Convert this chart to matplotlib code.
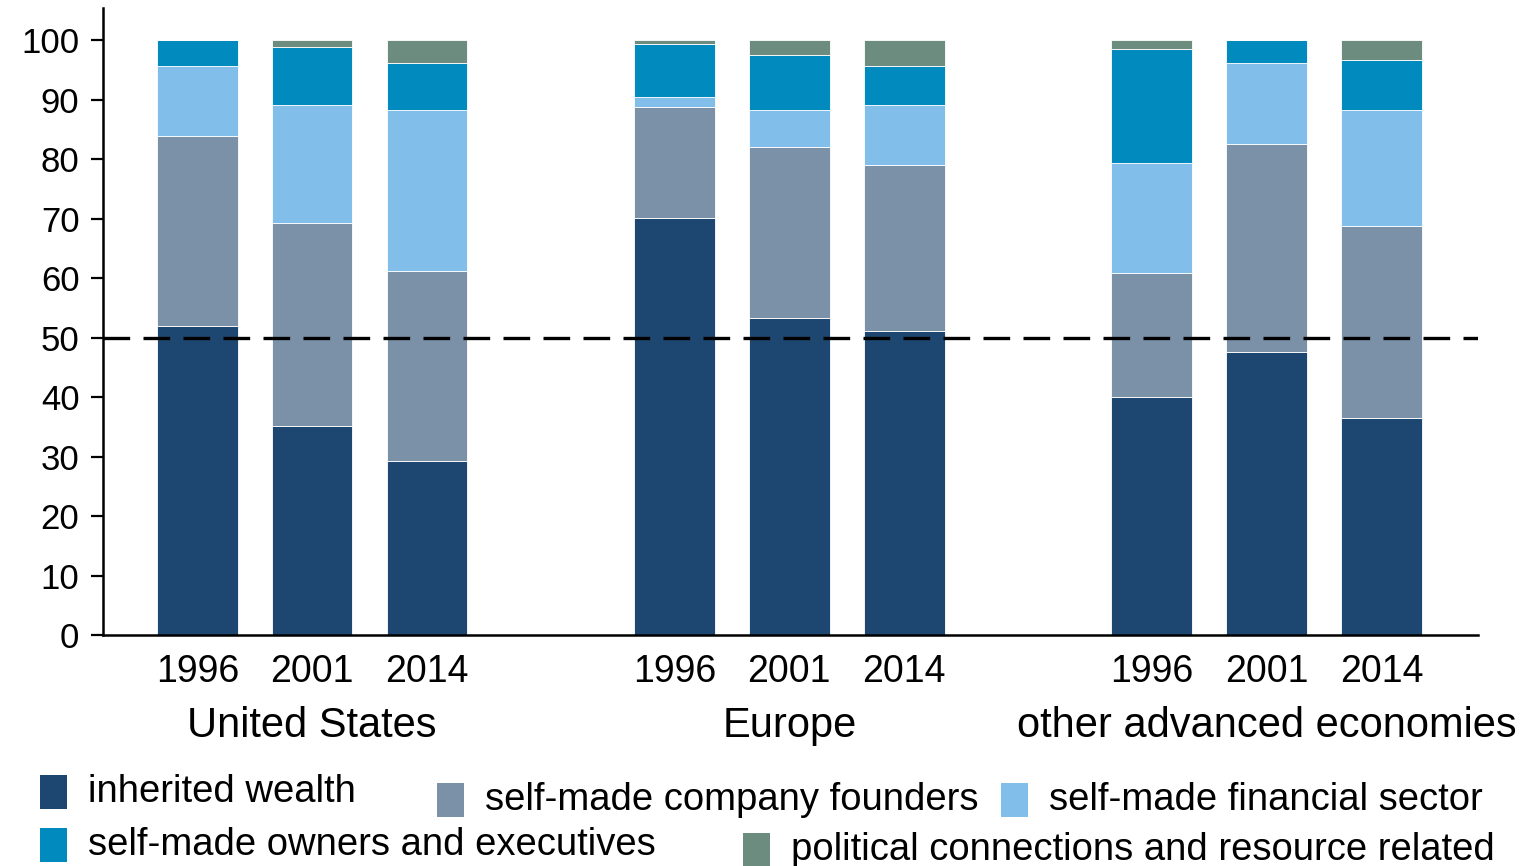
import numpy as np
import matplotlib
matplotlib.use("Agg")
import matplotlib.pyplot as plt
from matplotlib.patches import Rectangle

plt.rcParams["font.family"] = ["Liberation Sans", "DejaVu Sans"]

# ------- data (shares of billionaire wealth, %) -------
regions = ["United States", "Europe", "other advanced economies"]
years = ["1996", "2001", "2014"]
categories = [
    "inherited wealth",
    "self-made company founders",
    "self-made financial sector",
    "self-made owners and executives",
    "political connections and resource related",
]
colors = ["#1d4770", "#7b91a8", "#82beea", "#008abd", "#6b8c7e"]

# order: US 96/01/14, Europe 96/01/14, other 96/01/14
inherited = [52.0, 35.1, 29.2, 70.1, 53.3, 51.1, 40.0, 47.6, 36.5]
founders = [31.9, 34.1, 32.0, 18.6, 28.7, 27.9, 20.8, 34.9, 32.2]
financial = [11.7, 19.9, 27.0, 1.7, 6.2, 10.1, 18.5, 13.6, 19.5]
owners = [4.4, 9.7, 7.9, 8.9, 9.3, 6.5, 19.2, 3.9, 8.4]
political = [0.0, 1.2, 3.9, 0.7, 2.5, 4.4, 1.5, 0.0, 3.4]

threshold = 50

series = [inherited, founders, financial, owners, political]

# bar positions: three bars per region, wider gap between regions
x = np.array([0, 1, 2, 4.15, 5.15, 6.15, 8.3, 9.3, 10.3])

fig = plt.figure(figsize=(15.21, 8.66), dpi=100)
ax = fig.add_axes([103 / 1521, 1 - 635 / 866, (1478 - 103) / 1521, (635 - 8) / 866])

bottom = np.zeros(len(x))
for vals, col, lab in zip(series, colors, categories):
    vals = np.array(vals)
    ax.bar(x, vals, width=0.7, bottom=bottom, color=col, edgecolor="white",
           linewidth=0.6, label=lab, zorder=2)
    bottom += vals

ax.axhline(threshold, color="black", linewidth=2.4, dashes=(8, 4), zorder=3)

ax.set_xlim(-0.82, 11.14)
ax.set_ylim(0, 105.4)
ax.set_yticks(np.arange(0, 101, 10))
ax.tick_params(axis="y", labelsize=25, length=9, width=1.6, pad=8, direction="out")
ax.set_xticks(x)
ax.set_xticklabels(years * 3, fontsize=27)
ax.tick_params(axis="x", length=0, pad=14)

for s in ["top", "right"]:
    ax.spines[s].set_visible(False)
ax.spines["left"].set_linewidth(1.8)
ax.spines["bottom"].set_linewidth(1.8)

# region labels
for i, reg in enumerate(regions):
    ax.text(x[3 * i + 1], -0.145, reg, transform=ax.get_xaxis_transform(),
            ha="center", va="center", fontsize=30)

# legend drawn by hand to match the two irregular rows
legend_pos = [(40, 792), (437, 800), (1001, 800), (40, 845), (743, 850)]
for (px, py), col, lab in zip(legend_pos, colors, categories):
    fig.patches.append(Rectangle((px / 1521, 1 - (py + 17) / 866), 27 / 1521, 34 / 866,
                                 transform=fig.transFigure, facecolor=col, edgecolor="none"))
    fig.text((px + 48) / 1521, 1 - py / 866, lab, fontsize=27.5, ha="left", va="center")

fig.savefig("out.png", dpi=100)
